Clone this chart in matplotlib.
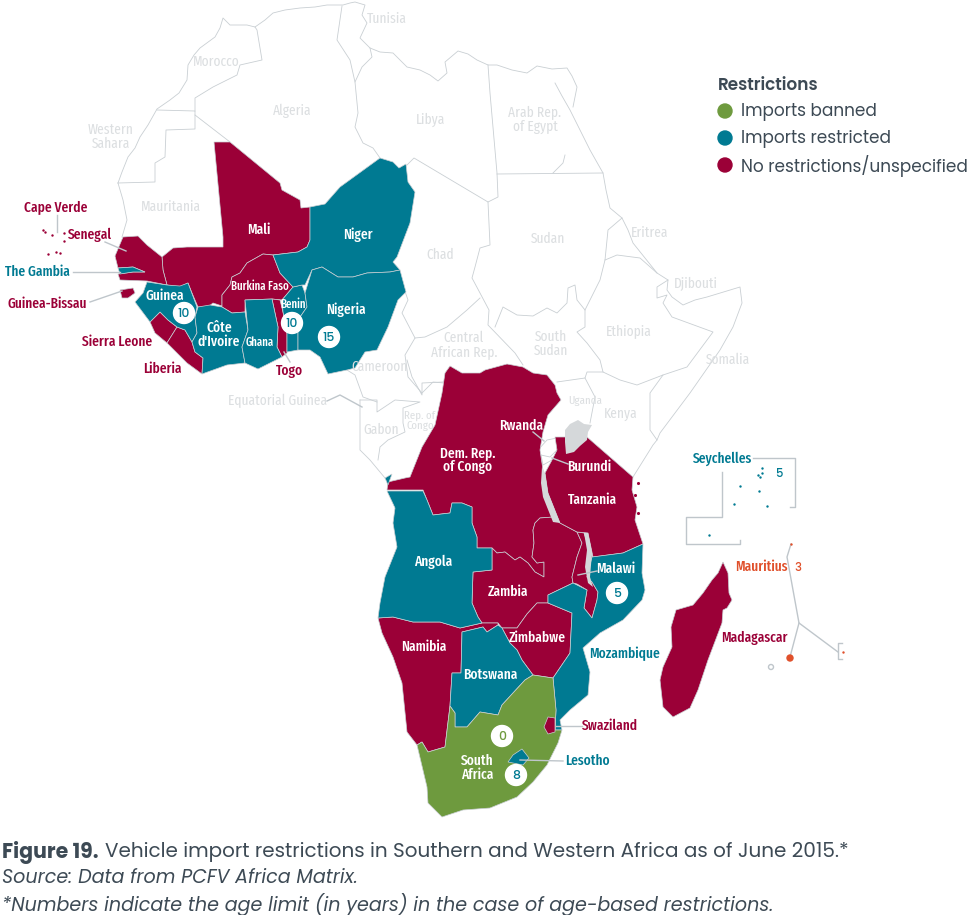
import matplotlib
matplotlib.use('Agg')
import matplotlib.pyplot as plt
from matplotlib.patches import Circle

MALI = [(214,142),(230,142),(280,183),(282,190),(300,200),(301,208),(310,207),(310,240),(307,247),(298,252),(273,255),
        (263,254),(247,263),(240,273),(232,277),(230,285),(222,295),(222,306),(213,303),(208,307),(198,307),(192,293),
        (188,283),(180,287),(167,285),(163,270),(162,257),(173,248),(187,247),(223,247),(223,237)]
SENEGAL = [(123,237),(138,236),(147,245),(162,257),(163,270),(167,285),(147,281),(120,280),(118,274),(133,272),(145,272),
           (133,267),(118,268),(115,256)]
GAMBIA = [(118,268),(133,267),(145,272),(133,272),(120,274)]
GUINEA_BISSAU = [(120,290),(133,288),(135,293),(128,298),(122,298)]
GUINEA = [(147,282),(167,285),(180,286),(188,283),(197,307),(195,317),(197,333),(192,342),(185,330),(177,327),(168,320),
          (160,312),(150,322),(135,302),(143,293)]
SIERRA_LEONE = [(150,322),(160,312),(168,320),(177,327),(167,343),(155,333)]
LIBERIA = [(177,327),(185,330),(192,342),(195,352),(203,358),(202,374),(187,363),(167,343)]
COTE_DIVOIRE = [(198,307),(210,305),(222,307),(232,313),(245,312),(248,330),(242,347),(245,363),(227,365),(202,374),
                (203,358),(195,352),(192,342),(197,333),(195,317)]
BURKINA_FASO = [(273,255),(280,273),(293,287),(282,300),(272,299),(245,300),(245,312),(232,313),(222,307),(222,295),
                (230,285),(232,277),(240,273),(247,263),(263,254)]
GHANA = [(245,300),(272,299),(278,327),(277,347),(282,357),(258,369),(245,363),(242,347),(248,330)]
TOGO = [(272,299),(280,300),(283,312),(287,333),(287,353),(282,357),(277,347),(278,327)]
BENIN = [(282,300),(293,287),(302,285),(305,293),(307,307),(298,320),(298,350),(287,352),(287,333),(283,312)]
NIGER = [(310,207),(325,204),(340,187),(380,158),(393,162),(399,168),(406,164),(408,182),(415,192),(410,223),(397,257),
         (393,262),(400,270),(390,272),(367,273),(353,277),(338,277),(322,267),(312,270),(305,285),(302,285),(293,287),
         (280,273),(273,255),(298,252),(307,247),(310,240)]
NIGERIA = [(312,270),(322,267),(338,277),(353,277),(367,273),(390,272),(400,270),(406,292),(398,300),(388,327),(377,350),
           (365,352),(355,368),(347,370),(328,374),(320,357),(310,350),(298,350),(298,320),(307,307),(305,293)]
DRC = [(445,373),(450,366),(462,373),(480,373),(485,370),(507,364),(523,367),(533,373),(547,375),(555,385),(557,393),
       (561,400),(548,415),(543,432),(540,450),(543,470),(543,490),(548,507),(553,517),(540,518),(535,523),(533,530),
       (534,543),(532,557),(537,563),(544,562),(544,577),(535,572),(528,563),(520,557),(515,560),(505,552),(497,553),
       (492,548),(477,548),(477,537),(472,523),(472,507),(462,503),(452,503),(450,513),(433,515),(427,500),(423,490),
       (387,490),(388,482),(405,478),(410,477),(422,447),(435,425),(442,393)]
CABINDA = [(385,478),(392,474),(388,485)]
ANGOLA = [(387,491),(423,491),(427,500),(433,515),(450,513),(452,503),(462,503),(472,507),(472,523),(477,537),(477,548),
          (492,548),(492,570),(473,572),(472,603),(478,617),(482,623),(460,628),(440,622),(413,622),(393,617),(378,618),
          (380,603),(385,577),(397,547),(393,523),(395,508)]
ZAMBIA = [(492,570),(492,548),(497,553),(505,552),(515,560),(520,557),(528,563),(535,572),(544,577),(544,562),(537,563),
          (532,557),(534,543),(533,530),(535,523),(540,518),(553,517),(560,523),(577,532),(582,543),(577,557),(572,577),
          (573,583),(548,595),(548,603),(537,603),(527,614),(517,628),(502,628),(498,623),(482,623),(478,617),(472,603),
          (473,572)]
MALAWI = [(577,532),(584,533),(592,557),(587,577),(592,582),(598,592),(597,600),(592,618),(584,608),(587,590),(577,584),
          (573,583),(572,577),(577,557),(582,543)]
TANZANIA = [(555,437),(587,437),(633,477),(632,490),(637,507),(635,520),(643,544),(623,553),(593,557),(588,533),(577,532),
            (560,523),(548,493),(545,473),(552,460),(557,450)]
MOZAMBIQUE = [(592,557),(623,553),(643,544),(642,573),(645,590),(642,600),(623,620),(600,633),(583,648),(590,672),(588,695),
              (570,710),(560,720),(562,730),(555,730),(556,710),(553,678),(570,653),(572,613),(548,603),(548,595),(573,583),
              (587,590),(584,608),(592,618),(597,600),(598,592),(592,582),(587,577)]
ZIMBABWE = [(502,628),(517,628),(527,614),(537,603),(548,603),(572,613),(570,653),(553,678),(533,675),(522,660),(517,650),(510,643)]
BOTSWANA = [(462,632),(483,627),(487,632),(498,625),(502,628),(510,643),(517,650),(522,660),(533,675),(525,680),(513,693),
            (502,705),(498,715),(480,712),(467,727),(455,727),(455,713),(450,706),(452,673),(461,673)]
NAMIBIA = [(378,618),(393,617),(413,622),(440,622),(460,628),(482,623),(498,623),(498,625),(487,632),(483,627),(462,632),(461,673),(452,673),
           (450,706),(445,747),(428,752),(422,742),(417,745),(407,732),(402,683),(393,657),(382,633)]
SOUTH_AFRICA = [(450,706),(455,713),(455,727),(467,727),(480,712),(498,715),(502,705),(513,693),(525,680),(533,675),(553,678),
                (556,710),(555,730),(562,730),(558,743),(547,765),(533,782),(517,797),(490,808),(463,810),(442,817),(428,803),
                (427,787),(417,745),(422,742),(428,752),(445,747)]
SWAZILAND = [(548,717),(555,718),(555,732),(548,734),(544,727)]
LESOTHO = [(522,749),(529,758),(523,765),(513,763),(508,762),(513,755)]
MADAGASCAR = [(723,562),(728,573),(729,593),(732,600),(727,608),(723,610),(722,623),(708,660),(698,690),(690,708),(673,717),
              (663,707),(660,680),(663,667),(672,647),(671,627),(676,610),(693,605),(703,593),(712,580),(718,573)]

countries_banned = [SOUTH_AFRICA]
countries_restricted = [GUINEA, COTE_DIVOIRE, GHANA, BENIN, NIGER, NIGERIA, GAMBIA, CABINDA, ANGOLA, MOZAMBIQUE, BOTSWANA, LESOTHO]
countries_none = [MALI, SENEGAL, GUINEA_BISSAU, SIERRA_LEONE, LIBERIA, BURKINA_FASO, TOGO, DRC, ZAMBIA, MALAWI, TANZANIA,
                  ZIMBABWE, NAMIBIA, SWAZILAND, MADAGASCAR]

LAKE_VICTORIA = [(565,430),(570,424),(578,420),(584,424),(592,425),(588,432),(587,440),(580,446),(574,452),(566,454),(565,442)]
LAKE_TANGANYIKA = [(542,467),(545,473),(548,493),(560,523),(553,522),(543,497),(541,483)]
LAKE_MALAWI = [(584,533),(588,533),(592,553),(590,577),(593,587),(588,583),(585,567),(587,550)]
lakes = [LAKE_VICTORIA, LAKE_TANGANYIKA, LAKE_MALAWI]

# white countries, only drawn as thin borders
borders = [
    [(118,183),(122,172),(128,157),(135,148),(140,137),(148,125),(157,109),(170,100),(179,93),(187,80),(188,65),(194,55),(200,48),
     (215,37),(220,28),(223,18),(230,25),(247,25),(255,27),(265,20),(273,13),(285,10),(300,8),(315,7),(327,5),(343,5),(350,3),
     (355,2),(365,5),(362,15),(367,23),(360,38),(370,48),(380,52),(393,53),(400,60),(407,67),(420,70),(430,75),(438,81),
     (447,73),(445,62),(458,51),(468,54),(477,60),(488,65),(497,65),(512,70),(527,73),(537,66),(552,69),(567,68),(572,76),(577,87),(573,107)],
    [(555,83),(562,96),(570,110),(590,150),(603,173),(606,190),(610,208),(622,218),(628,230),(633,243),(645,258),(657,273),(668,280),(667,290),(672,297),(683,305),
     (695,300),(707,297),(740,287),(742,303),(733,327),(720,350),(690,393),(660,433),(657,440),(653,445),(633,477)],
    [(118,183),(155,182),(155,163),(165,157),(166,130),(195,129),(195,111),(157,110)],
    [(118,183),(123,200),(127,220),(122,237)],
    [(195,111),(195,98),(213,87),(237,75),(240,65),(262,60),(257,30),(255,27)],
    [(195,115),(230,142)],
    [(342,6),(337,40),(350,60),(355,82),(362,67),(372,57),(370,48)],
    [(355,82),(358,113),(355,127),(363,143),(373,148),(380,158)],
    [(488,65),(490,93),(497,173),(498,197),(488,202),(414,158),(407,165)],
    [(497,174),(603,173)],
    [(488,202),(490,245),(480,248),(475,267),(472,278),(480,293),(489,310),(488,325),(515,353),(523,365)],
    [(480,298),(467,310),(447,327),(425,337),(415,338),(405,355),(408,377),(422,393),(433,382),(444,383)],
    [(400,277),(408,300),(402,313),(415,338)],
    [(495,327),(503,307),(517,315),(533,316),(547,308),(557,313),(567,303),(568,288),(575,285),(577,300),(585,310)],
    [(622,218),(608,230),(605,260),(600,280),(585,310),(585,327),(577,332),(587,343),(600,360),(603,372),(620,380),(637,385),
     (663,375),(687,367),(713,332),(672,317),(663,303),(667,295),(657,298),(657,287),(668,280)],
    [(605,260),(617,255),(640,258),(657,273)],
    [(557,382),(585,378),(587,372),(603,372)],
    [(585,378),(595,397),(590,423)],
    [(663,375),(650,393),(650,430),(657,440)],
    [(347,370),(355,375),(363,397),(377,402)],
    [(360,400),(377,400),(377,412),(395,400),(420,402),(403,408),(403,423),(405,432),(388,440),(380,447),(378,460)],
    [(360,400),(360,450),(370,460),(385,478)],
    [(407,360),(412,377),(422,395),(422,383),(443,382)],
    [(538,450),(547,440),(557,438),(557,450),(550,457),(541,455)],
    [(541,455),(543,465),(552,460)],
    [(565,155),(563,163),(553,173)],
]

# label text, x, y
labels_grey = [('Tunisia',387,19),('Morocco',216,62),('Algeria',292,111),('Libya',431,120),('Arab Rep.\nof Egypt',535,120),
               ('Western\nSahara',111,137),('Mauritania',171,207),('Chad',440,255),('Sudan',548,239),('Eritrea',650,233),
               ('Djibouti',696,284),('Ethiopia',629,332),('Somalia',728,360),('Central\nAfrican Rep.',464,345),
               ('South\nSudan',551,344),('Cameroon',380,367),('Equatorial Guinea',278,401),('Gabon',381,430),('Kenya',621,414)]
labels_grey_small = [('Rep. of\nCongo',420,421),('Uganda',585,401)]
labels_white = [('Mali',259,230),('Niger',358,235),('Nigeria',346,310),('Guinea',165,296),("Côte\nd'Ivoire",219,335),
                ('Dem. Rep.\nof Congo',468,460),('Rwanda',521,426),('Burundi',589,467),('Tanzania',593,500),('Angola',433,562),
                ('Malawi',616,569),('Zambia',508,592),('Zimbabwe',537,638),('Namibia',424,647),('Botswana',490,675),
                ('South\nAfrica',477,768)]
labels_white_small = [('Burkina Faso',260,286),('Ghana',260,342),('Benin',293,304)]
labels_crimson = [('Cape Verde',56,208),('Senegal',90,235),('Guinea-Bissau',47,304),('Sierra Leone',117,342),('Liberia',162,369),
                  ('Togo',289,371),('Swaziland',610,726),('Madagascar',754,638)]
labels_teal = [('The Gambia',37,272),('Mozambique',624,654),('Lesotho',587,761),('Seychelles',723,459)]
labels_red = [('Mauritius',761,567)]

# age limits in years: value, x, y, colour group
age_teal = [('10',184,313),('10',292,323),('15',329,337),('5',617,593),('8',516,775)]
age_green = [('0',502,736)]

leaders = [[(57,215),(57,232)],[(105,242),(126,251)],[(73,272),(120,272)],[(90,302),(122,291)],[(284,352),(290,362)],
           [(327,401),(340,395),(362,407)],[(533,432),(544,441)],[(568,464),(552,458)],[(597,571),(578,575)],
           [(582,726),(556,726)],[(563,761),(520,760)]]
brackets = [[(753,458),(795,458),(795,507),(790,507)],[(722,472),(722,517),(686,517),(686,544),(740,544),(740,540)],
            [(791,544),(787,557),(799,623),(790,657)],[(799,623),(838,652)],[(842,643),(838,643),(838,659),(842,659)]]

cape_verde_x = [43,45,52,64,64,48,56,60]
cape_verde_y = [230,232,235,233,241,254,252,253]
seychelles_x = [760,762,762,740,759,734,767,709,758]
seychelles_y = [477,473,468,486,491,504,506,535,475]
zanzibar = [(638,483),(635,495),(638,513)]
mauritius_x = [791,843]
mauritius_y = [544,652]

legend_names = ['Imports banned', 'Imports restricted', 'No restrictions/unspecified']
caption_bold = 'Figure 19.'
caption_1 = 'Vehicle import restrictions in Southern and Western Africa as of June 2015.*'
caption_2 = 'Source: Data from PCFV Africa Matrix.'
caption_3 = '*Numbers indicate the age limit (in years) in the case of age-based restrictions.'

CRIMSON = '#9B0037'
TEAL = '#007A92'
GREEN = '#6E9A3E'
RED = '#E0502B'
LINE = '#C9CFD3'
GREY_TEXT = '#DCDFE1'
DARK = '#3D4A55'
NARROW = ['Fira Sans Extra Condensed', 'Liberation Sans Narrow', 'Lato', 'DejaVu Sans']
WIDE = ['Poppins', 'Lato', 'DejaVu Sans']

fig = plt.figure(figsize=(9.68, 9.15), dpi=100)
ax = fig.add_axes([0, 0, 1, 1])
ax.set_xlim(0, 968)
ax.set_ylim(915, 0)
ax.axis('off')

for line in borders:
    xs, ys = zip(*line)
    ax.plot(xs, ys, color=LINE, lw=0.6, zorder=1)

for group, colour in [(countries_none, CRIMSON), (countries_restricted, TEAL), (countries_banned, GREEN)]:
    for poly in group:
        xs, ys = zip(*poly)
        # small ones go on top of their neighbours
        z = 3 if poly in (GAMBIA, LESOTHO, SWAZILAND, GUINEA_BISSAU) else 2
        ax.fill(xs, ys, facecolor=colour, edgecolor=LINE, lw=0.5, zorder=z)

for poly in lakes:
    xs, ys = zip(*poly)
    ax.fill(xs, ys, facecolor='#D5D8DA', edgecolor='none', zorder=3)

for line in leaders + brackets:
    xs, ys = zip(*line)
    ax.plot(xs, ys, color='#BFC6CB', lw=1.0, zorder=4)

ax.scatter(cape_verde_x, cape_verde_y, s=3, color=CRIMSON, linewidths=0, zorder=4)
ax.scatter(seychelles_x, seychelles_y, s=3, color=TEAL, linewidths=0, zorder=4)
ax.scatter(*zip(*zanzibar), s=5, color=CRIMSON, linewidths=0, zorder=4)
ax.scatter(mauritius_x, mauritius_y, s=3, color=RED, linewidths=0, zorder=4)
ax.add_patch(Circle((790, 658), 3, color=RED, zorder=4))
ax.add_patch(Circle((771, 667), 2.5, facecolor='none', edgecolor='#BFC6CB', lw=1, zorder=4))

for items, colour, size, wt in [(labels_grey, GREY_TEXT, 10.5, 'normal'), (labels_grey_small, GREY_TEXT, 8.5, 'normal'),
                                (labels_white, 'white', 10.5, 'medium'), (labels_white_small, 'white', 8.5, 'medium'),
                                (labels_crimson, CRIMSON, 10.5, 'medium'), (labels_teal, TEAL, 10.5, 'medium'),
                                (labels_red, RED, 10.5, 'medium')]:
    for name, x, y in items:
        ax.text(x, y, name, color=colour, fontsize=size, family=NARROW, weight=wt, ha='center', va='center',
                linespacing=1.0, zorder=6)

for items, colour in [(age_teal, TEAL), (age_green, GREEN)]:
    for value, x, y in items:
        ax.add_patch(Circle((x, y), 10.5, color='white', zorder=5))
        ax.text(x, y + 1, value, color=colour, fontsize=9, family=WIDE, weight='medium', ha='center', va='center', zorder=6)
ax.text(779, 474, '5', color=TEAL, fontsize=8.5, family=WIDE, weight='medium', ha='center', va='center')
ax.text(798, 568, '3', color=RED, fontsize=8.5, family=WIDE, weight='medium', ha='center', va='center')

# legend
ax.text(718, 86, 'Restrictions', color=DARK, fontsize=12.2, family=WIDE, weight='semibold', ha='left', va='center')
for name, colour, y in zip(legend_names, [GREEN, TEAL, CRIMSON], [111, 138, 165]):
    ax.add_patch(Circle((725, y), 7, color=colour))
    ax.text(741, y + 1, name, color=DARK, fontsize=12.2, family=WIDE, ha='left', va='center')

# caption
ax.text(2, 852.5, caption_bold, color=DARK, fontsize=14.7, family=WIDE, weight='bold', ha='left', va='center')
ax.text(105, 852.5, caption_1, color=DARK, fontsize=14.35, family=WIDE, ha='left', va='center')
ax.text(2, 878, caption_2, color=DARK, fontsize=13.75, family=WIDE, style='italic', ha='left', va='center')
ax.text(2, 905, caption_3, color=DARK, fontsize=13.75, family=WIDE, style='italic', ha='left', va='center')

fig.savefig('out.png', dpi=100)
